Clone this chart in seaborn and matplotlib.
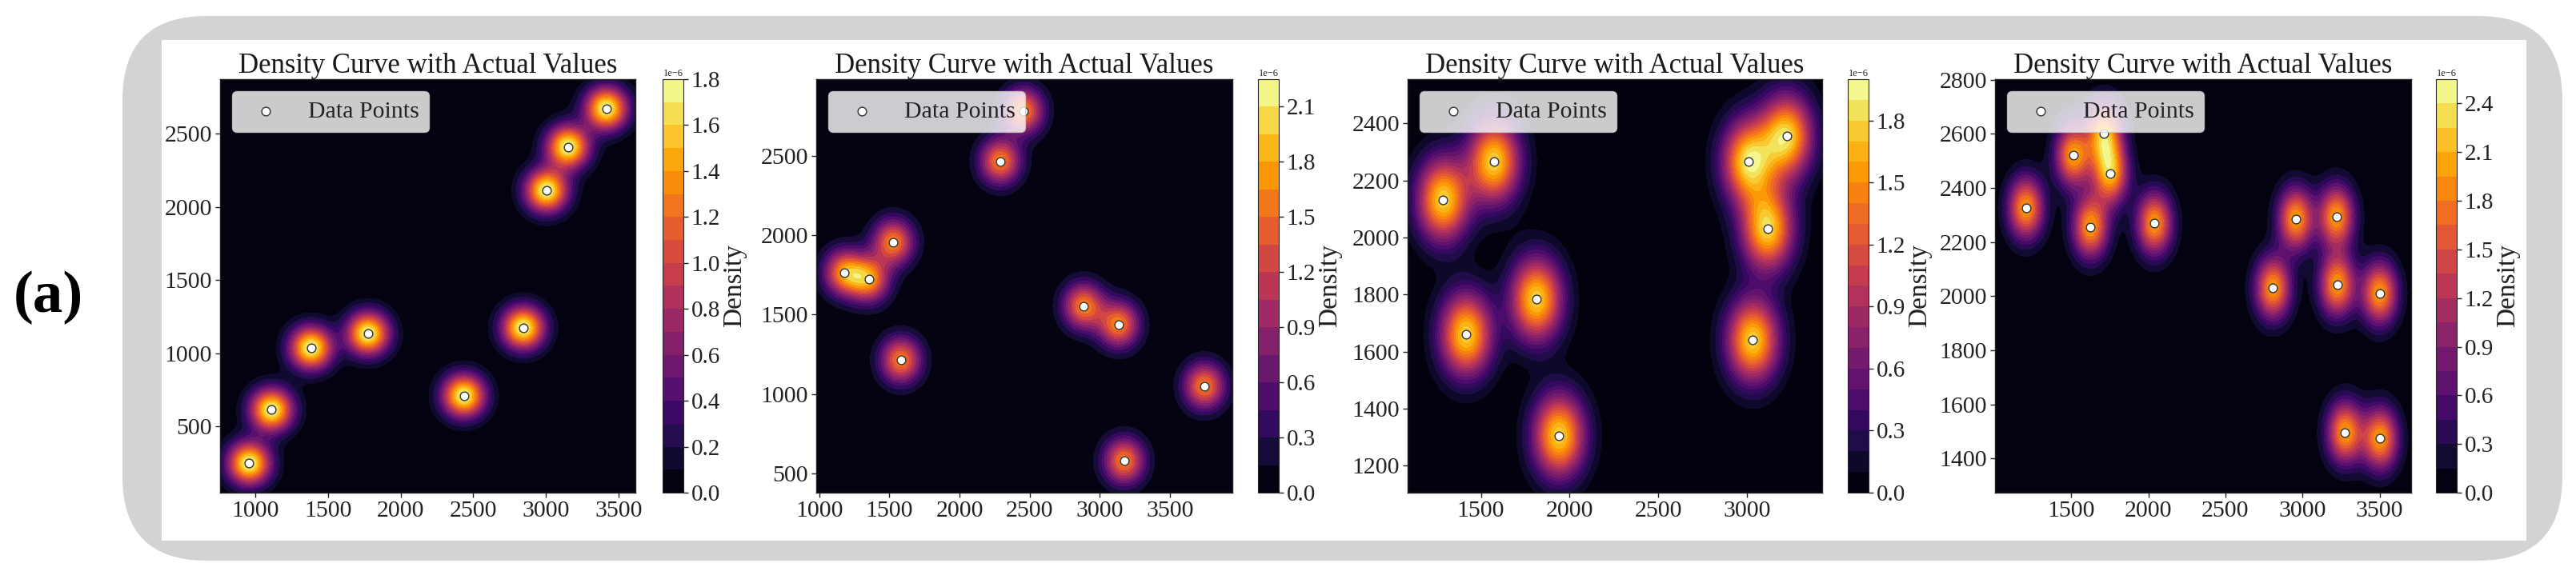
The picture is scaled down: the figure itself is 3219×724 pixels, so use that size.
import numpy as np
import matplotlib
matplotlib.use("Agg")
import matplotlib.pyplot as plt
import seaborn as sns
from matplotlib.patches import FancyBboxPatch, Rectangle
from matplotlib.transforms import IdentityTransform
from matplotlib.ticker import MultipleLocator

# ---------------- data ----------------
p1_x = [958, 1112, 1384, 1776, 2435, 2844, 3004, 3152, 3416]
p1_y = [249, 614, 1037, 1135, 710, 1174, 2111, 2409, 2671]

p2_x = [1179, 1355, 1528, 1582, 2290, 2455, 2884, 3134, 3173, 3744]
p2_y = [1766, 1723, 1958, 1213, 2468, 2785, 1554, 1438, 578, 1050]

p3_x = [1287, 1574, 1417, 1813, 1941, 3007, 3224, 3116, 3033]
p3_y = [2133, 2267, 1660, 1784, 1306, 2267, 2355, 2031, 1640]

p4_x = [1206, 1513, 1625, 1714, 1755, 2040, 2809, 2957, 3220, 3225, 3500, 3276, 3505]
p4_y = [2326, 2521, 2256, 2602, 2453, 2269, 2030, 2286, 2295, 2042, 2011, 1497, 1474]

panels_x = [p1_x, p2_x, p3_x, p4_x]
panels_y = [p1_y, p2_y, p3_y, p4_y]

kernel_bw = [100, 100, 100, 79]      # gaussian kernel width (data units)
grid_pad = 200                        # grid extends this far beyond the data
x_tick_step = [500, 500, 500, 500]
y_tick_step = [500, 500, 200, 200]

title_text = "Density Curve with Actual Values"
legend_text = "Data Points"
cbar_text = "Density"
tag_text = "(a)"

# ---------------- style ----------------
sns.set_theme(style="ticks")
plt.rcParams["font.family"] = ["Liberation Serif", "DejaVu Serif"]
plt.rcParams["axes.unicode_minus"] = True

W, H = 3219, 724
DPI = 100
fig = plt.figure(figsize=(W / DPI, H / DPI), dpi=DPI)
fig.patch.set_facecolor("white")

# rounded grey frame with white inner panel (pixel coordinates)
outer = FancyBboxPatch((153, H - 701), 3202 - 153, 701 - 20,
                       boxstyle="round,pad=0,rounding_size=105",
                       transform=IdentityTransform(), facecolor="#d3d3d3",
                       edgecolor="none", zorder=-20)
inner = Rectangle((202, H - 676), 3157 - 202, 676 - 50,
                  transform=IdentityTransform(), facecolor="white",
                  edgecolor="none", zorder=-19)
fig.add_artist(outer)
fig.add_artist(inner)

fig.text(60 / W, (H - 372) / H, tag_text, fontsize=54, fontweight="bold",
         ha="center", va="center", color="black")

ax_left = [275, 1020, 1759, 2493]
ax_right = [794, 1540, 2277, 3013]
cb_left = [828, 1572, 2309, 3044]
cb_w = 26
top_px, bot_px = 99, 616


def density_grid(x, y, bw, pad, n=320):
    x = np.asarray(x, float)
    y = np.asarray(y, float)
    gx = np.linspace(x.min() - pad, x.max() + pad, n)
    gy = np.linspace(y.min() - pad, y.max() + pad, n)
    X, Y = np.meshgrid(gx, gy)
    Z = np.zeros_like(X)
    for xi, yi in zip(x, y):
        Z += np.exp(-((X - xi) ** 2 + (Y - yi) ** 2) / (2.0 * bw ** 2))
    Z /= len(x) * 2.0 * np.pi * bw ** 2
    return X, Y, Z


for i in range(4):
    ax = fig.add_axes([ax_left[i] / W, (H - bot_px) / H,
                       (ax_right[i] - ax_left[i]) / W, (bot_px - top_px) / H])
    cax = fig.add_axes([cb_left[i] / W, (H - bot_px) / H,
                        cb_w / W, (bot_px - top_px) / H])
    xs, ys = panels_x[i], panels_y[i]
    X, Y, Z = density_grid(xs, ys, kernel_bw[i], grid_pad)
    cs = ax.contourf(X, Y, Z, levels=20, cmap="inferno", zorder=1)
    sns.scatterplot(x=xs, y=ys, ax=ax, color="white", edgecolor="#333333",
                    s=60, linewidth=1.0, label=legend_text, zorder=3,
                    legend=False)
    ax.set_xlim(X.min(), X.max())
    ax.set_ylim(Y.min(), Y.max())
    ax.xaxis.set_major_locator(MultipleLocator(x_tick_step[i]))
    ax.yaxis.set_major_locator(MultipleLocator(y_tick_step[i]))
    ax.set_title(title_text, fontsize=25, pad=3, color="#1a1a1a")
    ax.tick_params(labelsize=21.5, length=4, width=1, pad=3,
                   colors="#222222", direction="out")
    for s in ax.spines.values():
        s.set_linewidth(1.0)
        s.set_color("#222222")
    leg = ax.legend(loc="upper left", fontsize=21.5, frameon=True,
                    facecolor="white", framealpha=0.8, edgecolor="0.8")
    for t in leg.get_texts():
        t.set_color("#222222")

    cb = fig.colorbar(cs, cax=cax)
    cb.set_label(cbar_text, fontsize=24, labelpad=2, color="#222222")
    cb.outline.set_linewidth(0.8)
    cax.tick_params(labelsize=21, length=4, width=1, pad=3, colors="#222222")
    cax.tick_params(which="minor", length=0)
    cax.yaxis.get_offset_text().set_fontsize(9)

fig.canvas.draw()
for a in fig.axes:
    if a.get_label() == "<colorbar>":
        for lab in a.get_yticklabels():
            lab.set_fontweight("bold")

fig.savefig("out.png", dpi=DPI, facecolor="white")
